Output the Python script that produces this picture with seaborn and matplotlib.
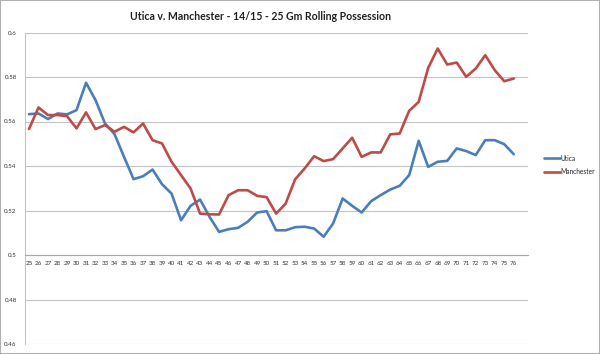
import matplotlib
matplotlib.use("Agg")
import matplotlib.pyplot as plt
import numpy as np
import pandas as pd
import seaborn as sns
from matplotlib.patches import Rectangle

games = list(range(25, 77))
utica = [0.5633, 0.5636, 0.5611, 0.5636, 0.5632, 0.5651, 0.5774, 0.5696, 0.5591, 0.5543,
         0.5441, 0.5341, 0.5354, 0.5384, 0.5318, 0.5276, 0.5156, 0.5221, 0.5249, 0.5171,
         0.5104, 0.5116, 0.5122, 0.5149, 0.5191, 0.5197, 0.5111, 0.5111, 0.5125, 0.5127,
         0.5119, 0.5082, 0.5142, 0.5254, 0.5221, 0.5191, 0.5242, 0.5269, 0.5294, 0.5311,
         0.5359, 0.5513, 0.5396, 0.5419, 0.5423, 0.5479, 0.5467, 0.5449, 0.5516, 0.5516,
         0.5498, 0.5453]
manchester = [0.5566, 0.5663, 0.5629, 0.5629, 0.5624, 0.5569, 0.5641, 0.5566, 0.5584, 0.5554,
              0.5576, 0.5551, 0.5591, 0.5516, 0.5501, 0.5419, 0.5359, 0.5299, 0.5186, 0.5183,
              0.5182, 0.5269, 0.5291, 0.5291, 0.5266, 0.5260, 0.5186, 0.5231, 0.5340, 0.5389,
              0.5444, 0.5422, 0.5431, 0.5479, 0.5527, 0.5441, 0.5461, 0.5461, 0.5542, 0.5546,
              0.5648, 0.5688, 0.5841, 0.5928, 0.5856, 0.5865, 0.5801, 0.5838, 0.5898, 0.5831,
              0.5781, 0.5793]
y_ticks = [0.46, 0.48, 0.5, 0.52, 0.54, 0.56, 0.58, 0.6]
y_labels = ["0.46", "0.48", "0.5", "0.52", "0.54", "0.56", "0.58", "0.6"]

df = pd.DataFrame({
    "game": games * 2,
    "poss": utica + manchester,
    "team": ["Utica"] * len(games) + ["Manchester"] * len(games),
})

sns.set_style("white")
plt.rcParams["font.family"] = ["Lato", "DejaVu Sans"]

fig = plt.figure(figsize=(6, 3.54), dpi=100)
ax = fig.add_axes([25 / 600, 1 - 344 / 354, (528 - 25) / 600, (344 - 32.5) / 354])

sns.lineplot(data=df, x="game", y="poss", hue="team",
             palette={"Utica": "#4A7EBB", "Manchester": "#BE4B48"},
             linewidth=1.9, ax=ax)

ax.set_xlim(24.58, 77.5)
ax.set_ylim(0.46, 0.6)
ax.set_yticks(y_ticks)
ax.set_yticklabels(y_labels)
ax.set_xticks(games)
ax.set_xlabel("")
ax.set_ylabel("")
ax.grid(axis="y", color="#C4C4C4", linewidth=0.8)
ax.set_axisbelow(True)

for s in ["top", "right"]:
    ax.spines[s].set_visible(False)
ax.spines["left"].set_color("#C4C4C4")
ax.spines["bottom"].set_position(("data", 0.5))
ax.spines["bottom"].set_color("#A8A8A8")

ax.tick_params(axis="x", direction="in", length=2, width=0.6, color="#A8A8A8",
               labelsize=4.5, pad=4, labelcolor="#333333")
ax.tick_params(axis="y", length=3, width=0.6, color="#C4C4C4", direction="out",
               labelsize=4.5, pad=3, labelcolor="#333333")

handles, labels = ax.get_legend_handles_labels()
ax.legend(handles, labels, loc="center left", bbox_to_anchor=(538 / 600, 189 / 354),
          bbox_transform=fig.transFigure, frameon=False, fontsize=4.8,
          handlelength=2.4, handletextpad=0.1, labelspacing=1.0)

fig.text(261 / 600, 1 - 16 / 354, "Utica v. Manchester - 14/15 - 25 Gm Rolling Possession",
         ha="center", va="center", fontsize=7.6, fontweight="bold", color="#222222")

fig.patches.append(Rectangle((0, 0), 1, 1, transform=fig.transFigure, fill=False,
                             edgecolor="#B0B0B0", linewidth=1.5))

fig.savefig("out.png", dpi=100)
